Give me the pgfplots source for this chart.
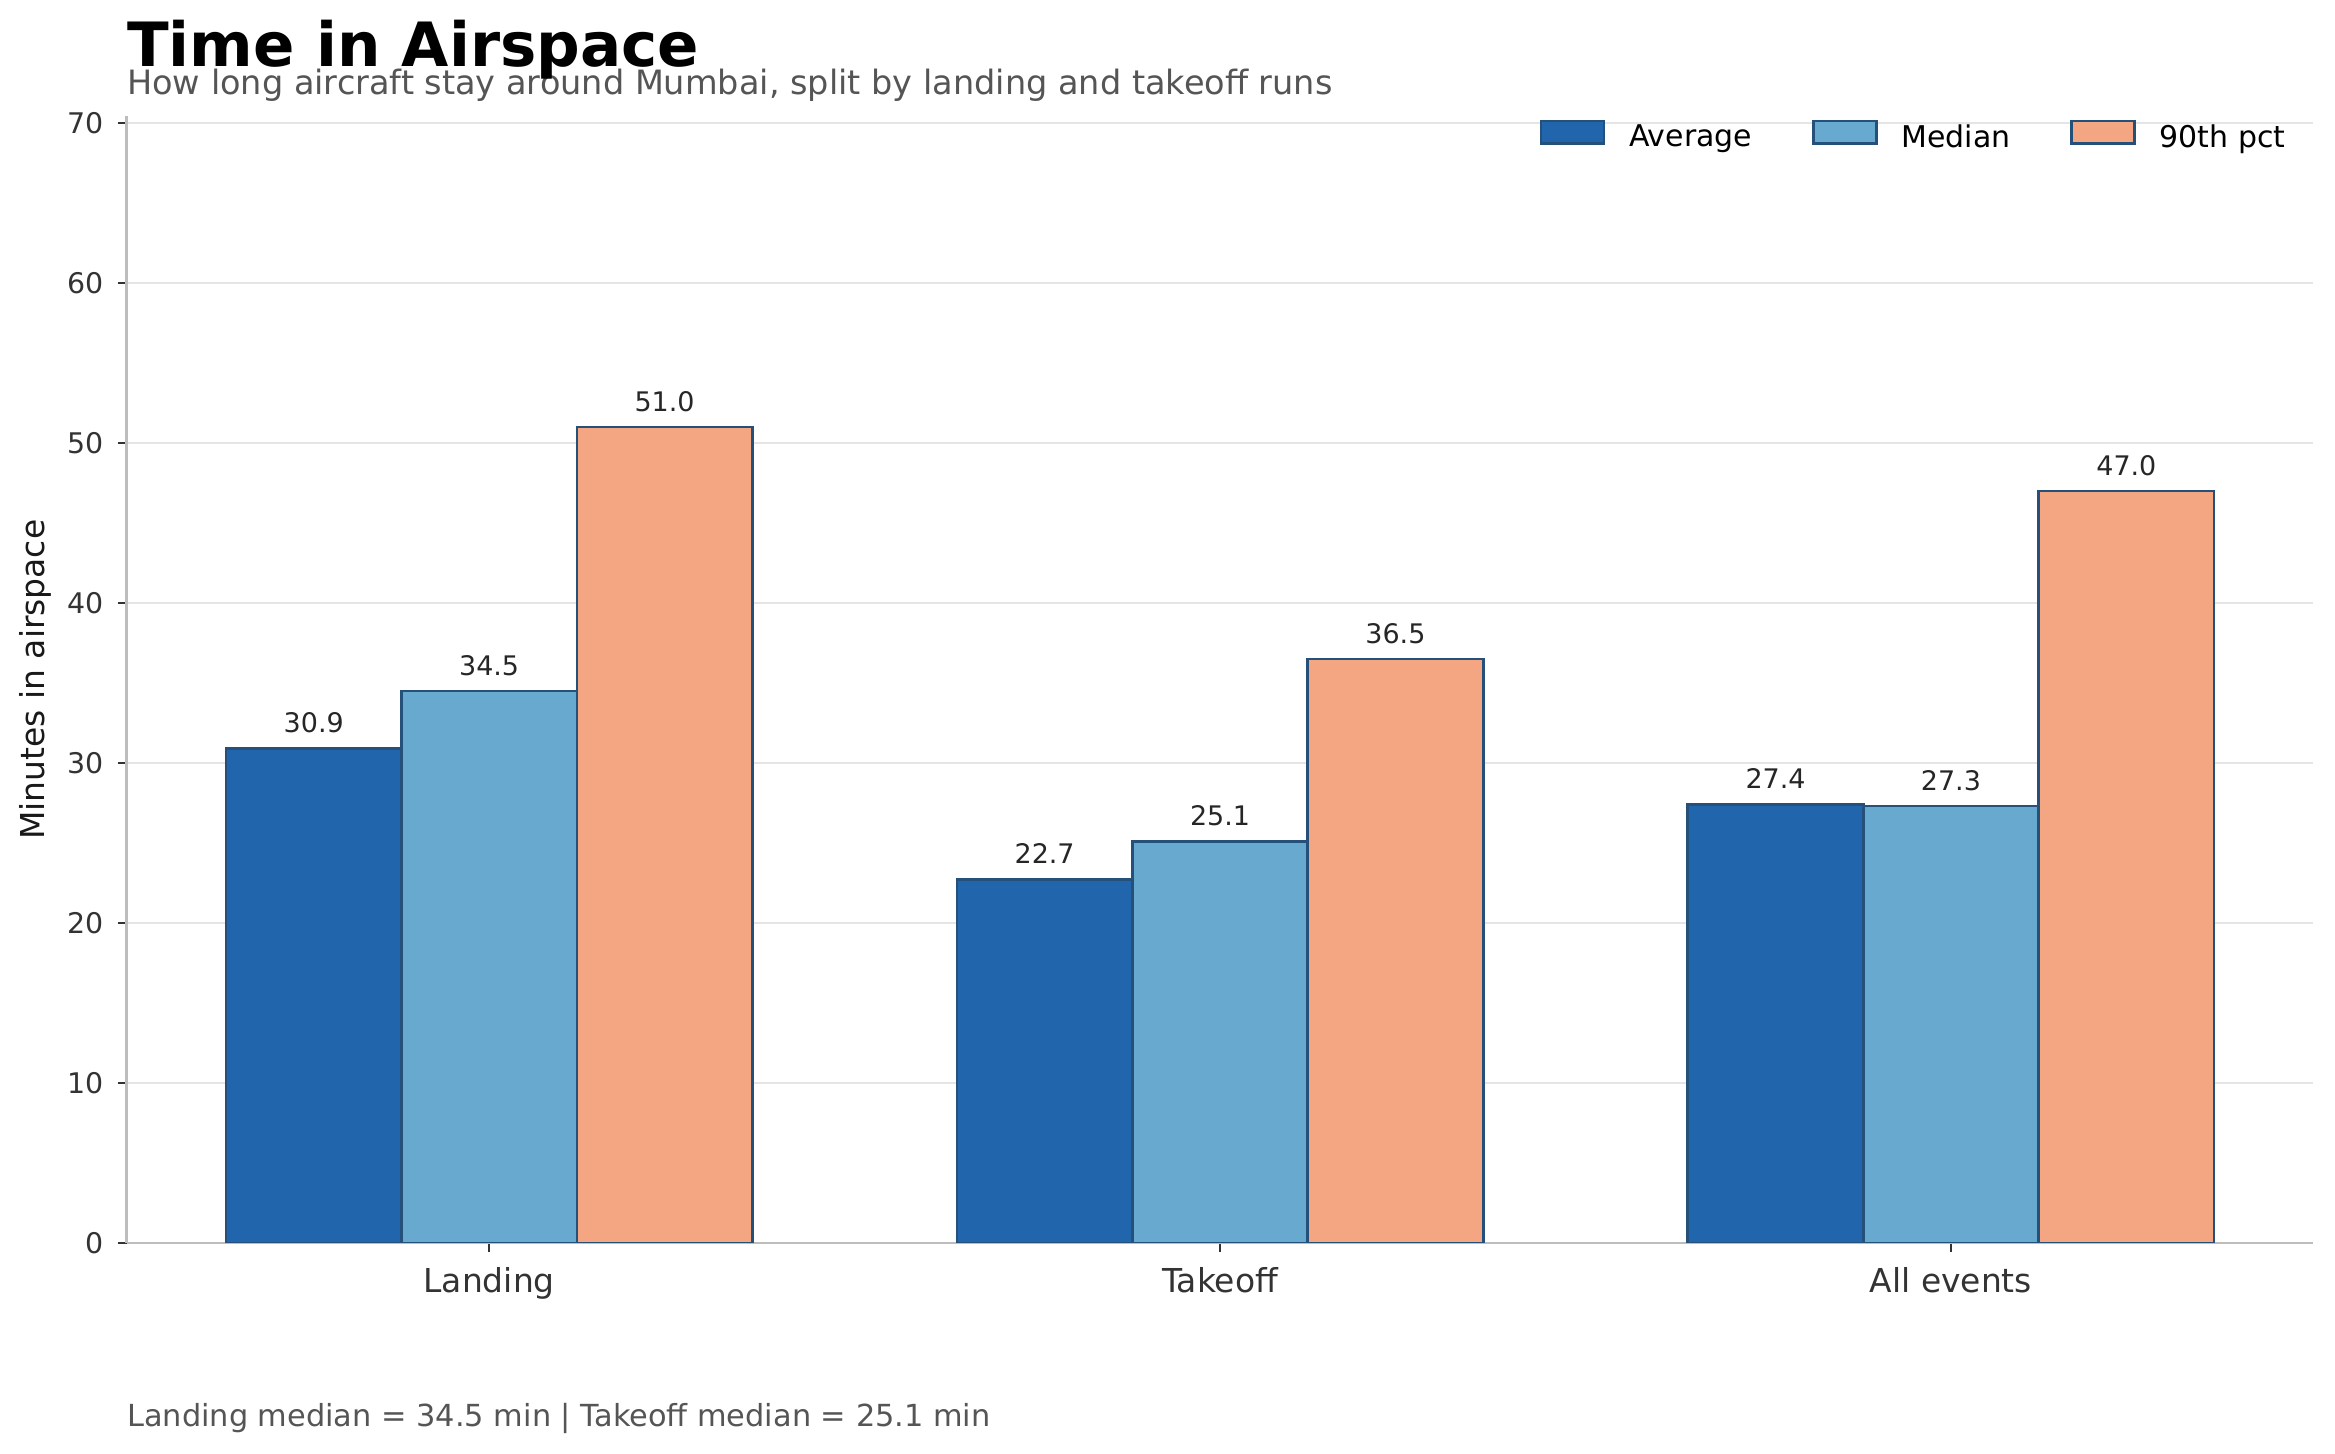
\documentclass[border=0pt]{standalone}
\usepackage{pgfplots}
\pgfplotsset{compat=1.18}
\usepackage{fontspec}
\setmainfont{DejaVu Sans}
\definecolor{cavg}{HTML}{2166AC}
\definecolor{cmed}{HTML}{67A9CF}
\definecolor{cp90}{HTML}{F4A582}
\definecolor{cedge}{HTML}{24507A}
\definecolor{cgrid}{HTML}{E5E5E5}
\definecolor{cspine}{HTML}{BDBDBD}
\definecolor{ctick}{HTML}{333333}
\definecolor{csub}{HTML}{555555}
\begin{document}
\begin{tikzpicture}
\path[use as bounding box] (0,0) rectangle (780pt,485.7pt);
\begin{axis}[
  at={(42.3pt,70.5pt)}, anchor=south west,
  scale only axis, width=730.5pt, height=376.3pt,
  xmin=-0.496, xmax=2.496, ymin=0, ymax=70.4,
  ybar=0pt, bar width=58.6pt,
  xtick={0,1,2}, xticklabels={Landing,Takeoff,All events},
  ytick={0,10,...,70},
  axis x line*=bottom, axis y line*=left,
  axis line style={cspine, line width=0.8pt},
  tick align=outside, major tick length=3pt,
  tick style={ctick, line width=0.6pt},
  ymajorgrids, grid style={cgrid, line width=0.7pt},
  /pgf/number format/assume math mode=true,
  xticklabel style={font=\fontsize{11}{13}\selectfont, text=ctick, anchor=base, inner sep=0pt, yshift=-13.5pt},
  yticklabel style={font=\fontsize{9.5}{11}\selectfont, text=ctick, anchor=east, inner sep=0pt, xshift=-4.6pt},
  ylabel={Minutes in airspace},
  ylabel style={at={(axis description cs:-0.0374,0.5)}, anchor=base, font=\fontsize{11}{13}\selectfont, text=black!90},
  legend columns=3,
  legend style={at={(1,1)}, anchor=east, xshift=-9.2pt, yshift=-6.4pt, draw=none, fill=none, inner sep=0pt,
    font=\fontsize{10}{12}\selectfont,
    /tikz/every odd column/.append style={column sep=8pt},
    /tikz/every even column/.append style={column sep=20pt},
    nodes={inner sep=0pt}},
  every axis plot post/.append style={legend image code/.code={\draw[##1, line width=0.9pt] (0pt,-1.75pt) rectangle (21pt,5.75pt);}},
  nodes near coords={\pgfmathprintnumber[fixed,zerofill,precision=1]{\pgfplotspointmeta}},
  every node near coord/.append style={font=\fontsize{9}{11}\selectfont, text=black!85, anchor=base, inner sep=0pt, yshift=5.3pt},
]
\addplot[fill=cavg, draw=cedge, line width=0.9pt] coordinates {(0,30.9) (1,22.7) (2,27.4)};
\addlegendentry{Average}
\addplot[fill=cmed, draw=cedge, line width=0.9pt] coordinates {(0,34.5) (1,25.1) (2,27.3)};
\addlegendentry{Median}
\addplot[fill=cp90, draw=cedge, line width=0.9pt] coordinates {(0,51.0) (1,36.5) (2,47.0)};
\addlegendentry{90th pct}
\end{axis}
\node[anchor=base west, inner sep=0pt, text=csub, font=\fontsize{11.2}{13}\selectfont] at (42.3pt,454pt) {How long aircraft stay around Mumbai, split by landing and takeoff runs};
\node[anchor=base west, inner sep=0pt, font=\bfseries\fontsize{20.4}{24}\selectfont] at (42.3pt,463.5pt) {Time in Airspace};
\node[anchor=base west, inner sep=0pt, text=csub, font=\fontsize{10.15}{12}\selectfont] at (42.3pt,9.1pt) {Landing median = 34.5 min | Takeoff median = 25.1 min};
\end{tikzpicture}
\end{document}
